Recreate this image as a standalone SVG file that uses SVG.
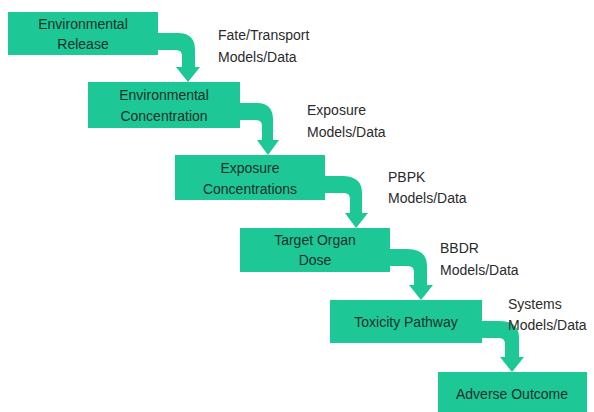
<svg xmlns="http://www.w3.org/2000/svg" width="594" height="412" viewBox="0 0 594 412">
<style>
.box{fill:#1dc896;}
.arr{fill:#1dc896;}
.bt{font-family:"Liberation Sans",Arial,sans-serif;font-size:14px;fill:#17302a;text-anchor:middle;}
.lb{font-family:"Liberation Sans",Arial,sans-serif;font-size:14px;fill:#2b2b2b;}
</style>
<rect width="594" height="412" fill="#ffffff"/>
<g id="connectors">
<path class="arr" d="M157,33 H178 Q195,33 195,50 V67 H200 L188,82 L176,67 H182 V56 Q182,50 176,50 H157 Z"/>
<path class="arr" d="M239,103 H257 Q273,103 273,120 V140 H279 L268,155 L257,140 H262 V126 Q262,120 256,120 H239 Z"/>
<path class="arr" d="M324,176 H342 Q362,176 362,193 V213 H368 L356,228 L345,213 H350 V199 Q350,193 344,193 H324 Z"/>
<path class="arr" d="M389,249 H407 Q427,249 427,266 V285 H433 L421,300 L409,285 H414 V272 Q414,266 408,266 H389 Z"/>
<path class="arr" d="M481,321 H500 Q519,321 519,338 V357 H524 L512,372 L500,357 H505 V344 Q505,338 499,338 H481 Z"/>
</g>
<g id="n1">
<rect class="box" x="8" y="12" width="150" height="43"/>
<text class="bt" x="83" y="29">Environmental</text>
<text class="bt" x="83" y="49">Release</text>
</g>
<g id="n2">
<rect class="box" x="88" y="82" width="152" height="46"/>
<text class="bt" x="164" y="100">Environmental</text>
<text class="bt" x="164" y="121">Concentration</text>
</g>
<g id="n3">
<rect class="box" x="175" y="155" width="150" height="45"/>
<text class="bt" x="250" y="173">Exposure</text>
<text class="bt" x="250" y="194">Concentrations</text>
</g>
<g id="n4">
<rect class="box" x="240" y="228" width="150" height="44"/>
<text class="bt" x="315" y="245">Target Organ</text>
<text class="bt" x="315" y="265">Dose</text>
</g>
<g id="n5">
<rect class="box" x="330" y="300" width="152" height="43"/>
<text class="bt" x="406" y="327">Toxicity Pathway</text>
</g>
<g id="n6">
<rect class="box" x="438" y="372" width="149" height="42"/>
<text class="bt" x="512" y="399">Adverse Outcome</text>
</g>
<g id="labels">
<text class="lb" x="218" y="40">Fate/Transport</text>
<text class="lb" x="218" y="62">Models/Data</text>
<text class="lb" x="307" y="115">Exposure</text>
<text class="lb" x="307" y="137">Models/Data</text>
<text class="lb" x="388" y="182">PBPK</text>
<text class="lb" x="388" y="203">Models/Data</text>
<text class="lb" x="440" y="253">BBDR</text>
<text class="lb" x="440" y="275">Models/Data</text>
<text class="lb" x="508" y="309">Systems</text>
<text class="lb" x="508" y="330">Models/Data</text>
</g>
</svg>
